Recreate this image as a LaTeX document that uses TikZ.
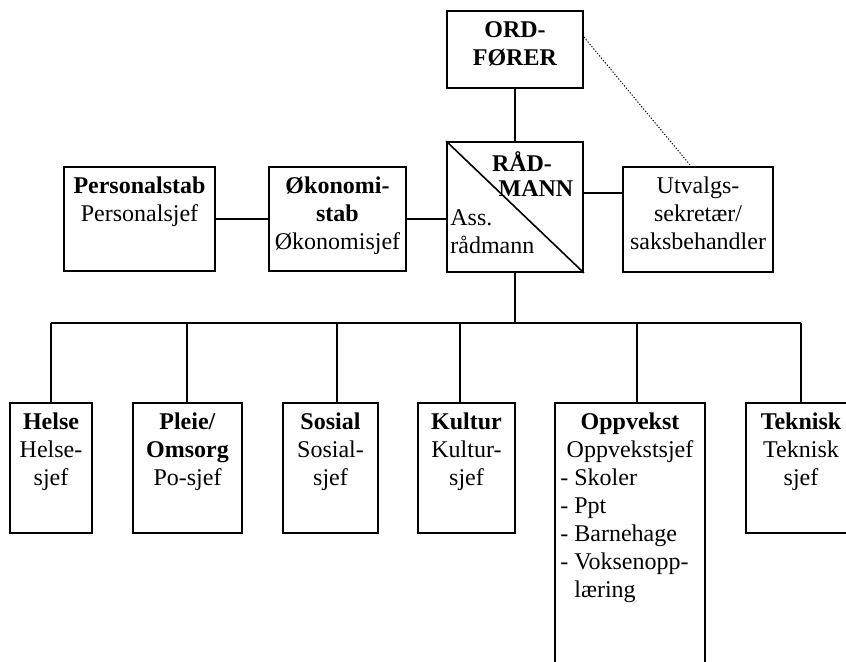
\documentclass[tikz,border=0pt]{standalone}
\usepackage{fontspec}
\setmainfont{Liberation Serif}
\usepackage{tikz}
\usetikzlibrary{calc}

\begin{document}
\begin{tikzpicture}[
    x=0.5pt, y=-0.5pt,
    font=\fontsize{12}{13.9}\selectfont,
    % boxes and their texts
    box/.style={rectangle, draw, line width=0.9pt, inner sep=0pt},
    txt/.style={align=center, inner sep=0pt, anchor=north},
    edge/.style={draw, line width=0.8pt},
    link/.style={draw, line width=0.5pt, dash pattern=on 0.6pt off 0.9pt},
]
\useasboundingbox (0,0) rectangle (846,662);

% =========================================================
% Top: ordfoerer and raadmann
% =========================================================
\node[box, minimum width=68pt, minimum height=38.5pt] (ord) at (515,49.5) {};
\node[txt] (ordT) at ([yshift=-3.8pt]ord.north) {\strut\textbf{ORD-}\\\textbf{FØRER}};

\node[box, minimum width=68pt, minimum height=65pt] (rad) at (515,207) {};
\draw[edge] (rad.north west) -- (rad.south east);
\node[anchor=base, inner sep=0pt] (radA) at (522,172) {\textbf{RÅD-}};
\node[anchor=base, inner sep=0pt] (radB) at (536,197) {\textbf{MANN}};
\node[anchor=north west, align=left, inner sep=0pt] (ass) at (450,206) {\strut Ass.\\rådmann};

% staff on the right
\node[box, minimum width=75pt, minimum height=52.5pt] (utv) at (698,219.5) {};
\node[txt] (utvT) at ([yshift=-3.8pt]utv.north) {\strut Utvalgs-\\sekretær/\\saksbehandler};

% staff on the left
\node[box, minimum width=75.5pt, minimum height=52pt] (pers) at (139.5,219) {};
\node[txt] (persT) at ([yshift=-3.8pt]pers.north) {\strut\textbf{Personalstab}\\Personalsjef};

\node[box, minimum width=68.5pt, minimum height=52pt] (oko) at (337.5,219) {};
\node[txt] (okoT) at ([yshift=-3.8pt]oko.north) {\strut\textbf{Økonomi-}\\\textbf{stab}\\Økonomisjef};

% connections at the top
\coordinate (hutv) at (600,193);
\draw[edge] (ord.south) -- (rad.north);
\draw[link] ([yshift=6.25pt]ord.east) -- ([xshift=-3.5pt]utv.north);
\draw[edge] (rad.east |- hutv) -- (utv.west |- hutv);
\draw[edge] (pers.east) -- (oko.west);
\draw[edge] (oko.east) -- (rad.west |- oko.east);

% =========================================================
% Bottom: the six sectors
% =========================================================
\node[box, minimum width=41pt,   minimum height=65pt] (helse)  at (51,468)    {};
\node[box, minimum width=54.5pt, minimum height=65pt] (pleie)  at (187.5,468) {};
\node[box, minimum width=47.5pt, minimum height=65pt] (sosial) at (330.5,468) {};
\node[box, minimum width=48.5pt, minimum height=65pt] (kultur) at (466.5,468) {};
\node[box, minimum width=75pt, minimum height=143.5pt] (oppv)  at (630,546.5) {};
\node[box, minimum width=55pt,   minimum height=65pt] (tekn)   at (801,468)   {};

\node[txt] (helseT)  at ([yshift=-3.8pt]helse.north)  {\strut\textbf{Helse}\\Helse-\\sjef};
\node[txt] (pleieT)  at ([yshift=-3.8pt]pleie.north)  {\strut\textbf{Pleie/}\\\textbf{Omsorg}\\Po-sjef};
\node[txt] (sosialT) at ([yshift=-3.8pt]sosial.north) {\strut\textbf{Sosial}\\Sosial-\\sjef};
\node[txt] (kulturT) at ([yshift=-3.8pt]kultur.north) {\strut\textbf{Kultur}\\Kultur-\\sjef};
\node[txt] (oppvT)   at ([yshift=-3.8pt]oppv.north)   {\strut\textbf{Oppvekst}\\Oppvekstsjef};
\node[anchor=north west, align=left, inner sep=0pt] (oppvL) at (560,466)
    {\strut- Skoler\\- Ppt\\- Barnehage\\- Voksenopp-\\\phantom{-~}læring};
\node[txt] (teknT)   at ([yshift=-3.8pt]tekn.north)   {\strut\textbf{Teknisk}\\Teknisk\\sjef};

% bus line and drops
\coordinate (bus) at (515,323);
\coordinate (d1) at (51,323);
\coordinate (d2) at (187,323);
\coordinate (d3) at (337,323);
\coordinate (d4) at (460,323);
\coordinate (d5) at (637,323);
\coordinate (d6) at (801,323);

\draw[edge] (rad.south) -- (rad.south |- bus);
\draw[edge] (d1) -- (d6);
\draw[edge] (d1) -- (d1 |- helse.north);
\draw[edge] (d2) -- (d2 |- pleie.north);
\draw[edge] (d3) -- (d3 |- sosial.north);
\draw[edge] (d4) -- (d4 |- kultur.north);
\draw[edge] (d5) -- (d5 |- oppv.north);
\draw[edge] (d6) -- (d6 |- tekn.north);

\end{tikzpicture}
\end{document}
